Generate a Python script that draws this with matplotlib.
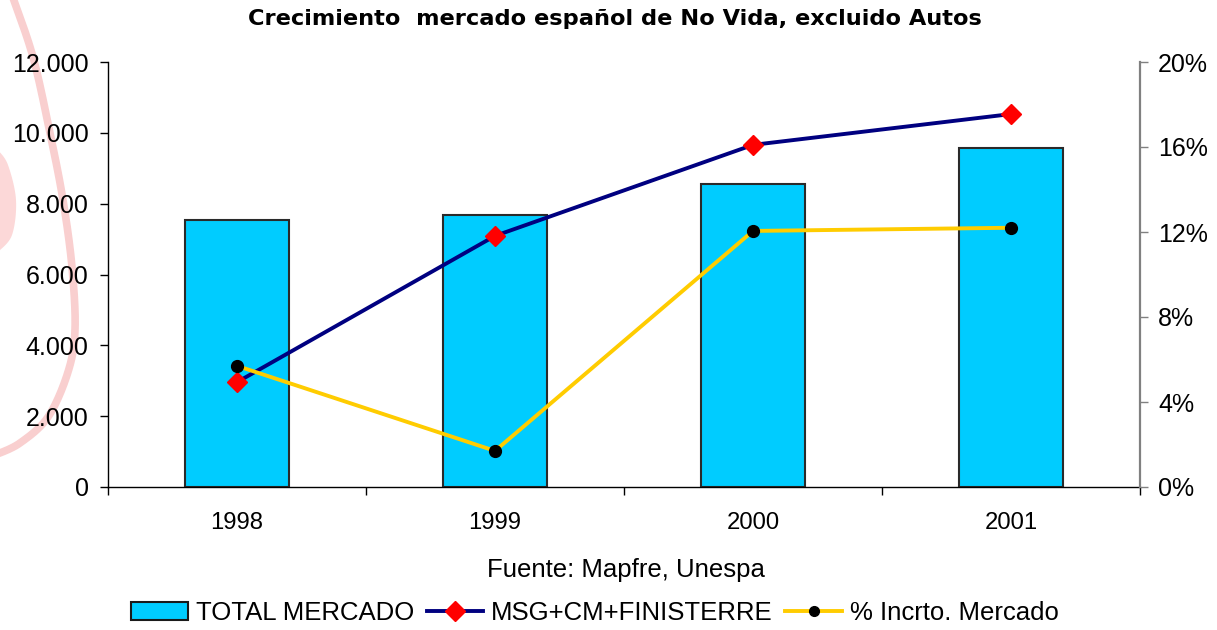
import matplotlib
matplotlib.use("Agg")
import numpy as np
import matplotlib.pyplot as plt
from matplotlib.patches import Patch
from matplotlib.lines import Line2D
from matplotlib.ticker import FuncFormatter, FixedLocator

plt.rcParams['font.family'] = ['Liberation Sans', 'DejaVu Sans']

years = ["1998", "1999", "2000", "2001"]
total_mercado = [7540, 7680, 8560, 9580]
msg_cm_finisterre = [2960, 7090, 9660, 10530]
pct_incremento = [5.7, 1.7, 12.05, 12.2]

title = "Crecimiento  mercado español de No Vida, excluido Autos"
source = "Fuente: Mapfre, Unespa"
legend_labels = ["TOTAL MERCADO", "MSG+CM+FINISTERRE", "% Incrto. Mercado"]

W, H = 1217, 630
fig = plt.figure(figsize=(W / 100, H / 100), dpi=100)


# ---- decorative faint watermark (pixel guide points -> smooth curve) ----
def catmull(pts, n=20):
    pts = np.asarray(pts, float)
    p = np.vstack([pts[0], pts, pts[-1]])
    out = []
    for i in range(1, len(p) - 2):
        p0, p1, p2, p3 = p[i - 1], p[i], p[i + 1], p[i + 2]
        for t in np.linspace(0, 1, n, endpoint=False):
            t2, t3 = t * t, t * t * t
            out.append(0.5 * ((2 * p1) + (-p0 + p2) * t + (2 * p0 - 5 * p1 + 4 * p2 - p3) * t2
                              + (-p0 + 3 * p1 - 3 * p2 + p3) * t3))
    out.append(p[-2])
    return np.array(out)

guide = [(12, -5), (33, 57), (50, 133), (63, 200), (72, 267), (75, 330), (68, 372),
         (48, 417), (20, 443), (-5, 455)]
arc = catmull(guide)
arc_fig = np.column_stack([arc[:, 0] / W, 1 - arc[:, 1] / H])
fig.add_artist(Line2D(arc_fig[:, 0], arc_fig[:, 1], transform=fig.transFigure,
                      color="#f9cfcf", lw=5.5, zorder=0, solid_capstyle="round"))
blob_pts = catmull([(-2, 150), (8, 165), (16, 200), (12, 235), (-2, 252)])
blob_fig = np.column_stack([blob_pts[:, 0] / W, 1 - blob_pts[:, 1] / H])
fig.add_artist(plt.Polygon(blob_fig, closed=True, transform=fig.transFigure,
                           facecolor="#fcd8d8", edgecolor="none", zorder=0))

# ---- main axes ----
ax = fig.add_axes([108 / W, 1 - 487 / H, (1140 - 108) / W, (487 - 62) / H])
ax.patch.set_alpha(0)
x = np.arange(len(years))

ax.bar(x, total_mercado, width=0.4, color="#00ccff", edgecolor="#2a2a2a", linewidth=1.5, zorder=2)
ax.plot(x, msg_cm_finisterre, color="#000080", lw=2.8, marker="D", markersize=10.5,
        markerfacecolor="red", markeredgecolor="red", zorder=4)
ax.set_xlim(-0.5, 3.5)
ax.set_ylim(0, 12000)
ax.yaxis.set_major_locator(FixedLocator(range(0, 12001, 2000)))
ax.yaxis.set_major_formatter(FuncFormatter(lambda v, p: f"{int(v):,}".replace(",", ".")))
ax.set_xticks(x)
ax.set_xticklabels(years)
ax.set_xticks([-0.5, 0.5, 1.5, 2.5, 3.5], minor=True)
ax.tick_params(axis="x", which="major", length=0, pad=18, labelsize=17.2)
ax.tick_params(axis="x", which="minor", length=6, direction="out", width=1)
ax.tick_params(axis="y", length=6, direction="out", width=1, labelsize=18, pad=8)
for s in ["top", "right"]:
    ax.spines[s].set_visible(False)
ax.spines["left"].set_linewidth(1)
ax.spines["bottom"].set_linewidth(1)

ax2 = ax.twinx()
ax2.plot(x, pct_incremento, color="#ffcc00", lw=2.8, marker="o", markersize=8.5,
         markerfacecolor="black", markeredgecolor="black", zorder=5)
ax2.set_ylim(0, 20)
ax2.yaxis.set_major_locator(FixedLocator(range(0, 21, 4)))
ax2.yaxis.set_major_formatter(FuncFormatter(lambda v, p: f"{int(v)}%"))
ax2.tick_params(axis="y", length=6, direction="out", width=1, labelsize=18, pad=7,
                color="#808080")
for s in ["top", "left", "bottom"]:
    ax2.spines[s].set_visible(False)
ax2.spines["right"].set_color("#808080")
ax2.spines["right"].set_linewidth(1.6)

fig.text(615 / W, 1 - 19 / H, title, ha="center", va="center",
         fontsize=16.2, fontweight="bold", family=["DejaVu Sans"])
fig.text(626 / W, 1 - 570 / H, source, ha="center", va="center", fontsize=18.5)

handles = [Patch(facecolor="#00ccff", edgecolor="#1a1a1a", linewidth=1.5),
           Line2D([], [], color="#000080", lw=2.8, marker="D", markersize=10.5,
                  markerfacecolor="red", markeredgecolor="red"),
           Line2D([], [], color="#ffcc00", lw=2.8, marker="o", markersize=7,
                  markerfacecolor="black", markeredgecolor="black")]
fig.legend(handles, legend_labels, loc="center", bbox_to_anchor=(595 / W, 1 - 613 / H), ncol=3,
           frameon=False, fontsize=18.5, handlelength=2.2, handletextpad=0.3, columnspacing=0.5,
           borderpad=0, handleheight=0.7)

fig.savefig("out.png", dpi=100)
